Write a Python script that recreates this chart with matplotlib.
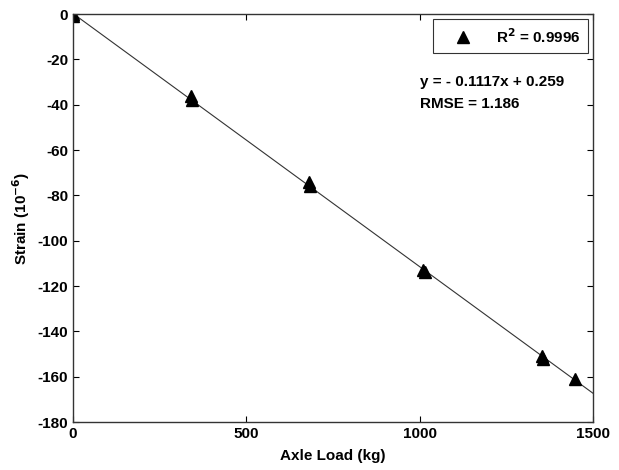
import matplotlib
matplotlib.use('Agg')
import matplotlib.pyplot as plt
import numpy as np

plt.rcParams['font.family'] = ['Liberation Sans Narrow', 'Liberation Sans', 'DejaVu Sans']
plt.rcParams['font.weight'] = 'bold'
plt.rcParams['axes.unicode_minus'] = False

# measured points (axle load kg, strain 1e-6)
load = [0, 0, 340, 342, 682, 684, 1010, 1016, 1352, 1355, 1447]
strain = [0, -1, -36, -38, -74, -76, -113, -114, -151, -152, -161]

slope = -0.1117
intercept = 0.259
r2 = 0.9996
rmse = 1.186

fig = plt.figure(figsize=(6.19, 4.70), dpi=100)
ax = fig.add_axes([0.118, 0.102, 0.840, 0.868])

xf = np.array([0, 1500])
ax.plot(xf, slope * xf + intercept, color='#333333', lw=0.8)
ax.plot(load, strain, linestyle='None', marker='^', color='black', markersize=8,
        label='R$^2$ = %.4f' % r2)

ax.set_xlim(0, 1500)
ax.set_ylim(-180, 0)
ax.set_xticks([0, 500, 1000, 1500])
ax.set_yticks(np.arange(-180, 1, 20))
ax.tick_params(direction='in', top=True, right=True, labelsize=11, length=4)
for s in ax.spines.values():
    s.set_linewidth(1.0)
    s.set_color('#333333')

ax.set_xlabel('Axle Load (kg)', fontsize=11, fontweight='bold', labelpad=6)
ax.set_ylabel('Strain (10$^{-6}$)', fontsize=11, fontweight='bold')

leg = ax.legend(loc='upper right', fontsize=11, frameon=True, fancybox=False,
                edgecolor='black', handlelength=3, handletextpad=0.6,
                borderpad=0.5, borderaxespad=0.35)
leg.get_frame().set_linewidth(0.8)

ax.text(0.667, 0.833, 'y = - %.4fx + %.3f' % (-slope, intercept), transform=ax.transAxes,
        fontsize=11, fontweight='bold', va='center')
ax.text(0.667, 0.779, 'RMSE = %.3f' % rmse, transform=ax.transAxes,
        fontsize=11, fontweight='bold', va='center')

fig.savefig('out.png', dpi=100)
